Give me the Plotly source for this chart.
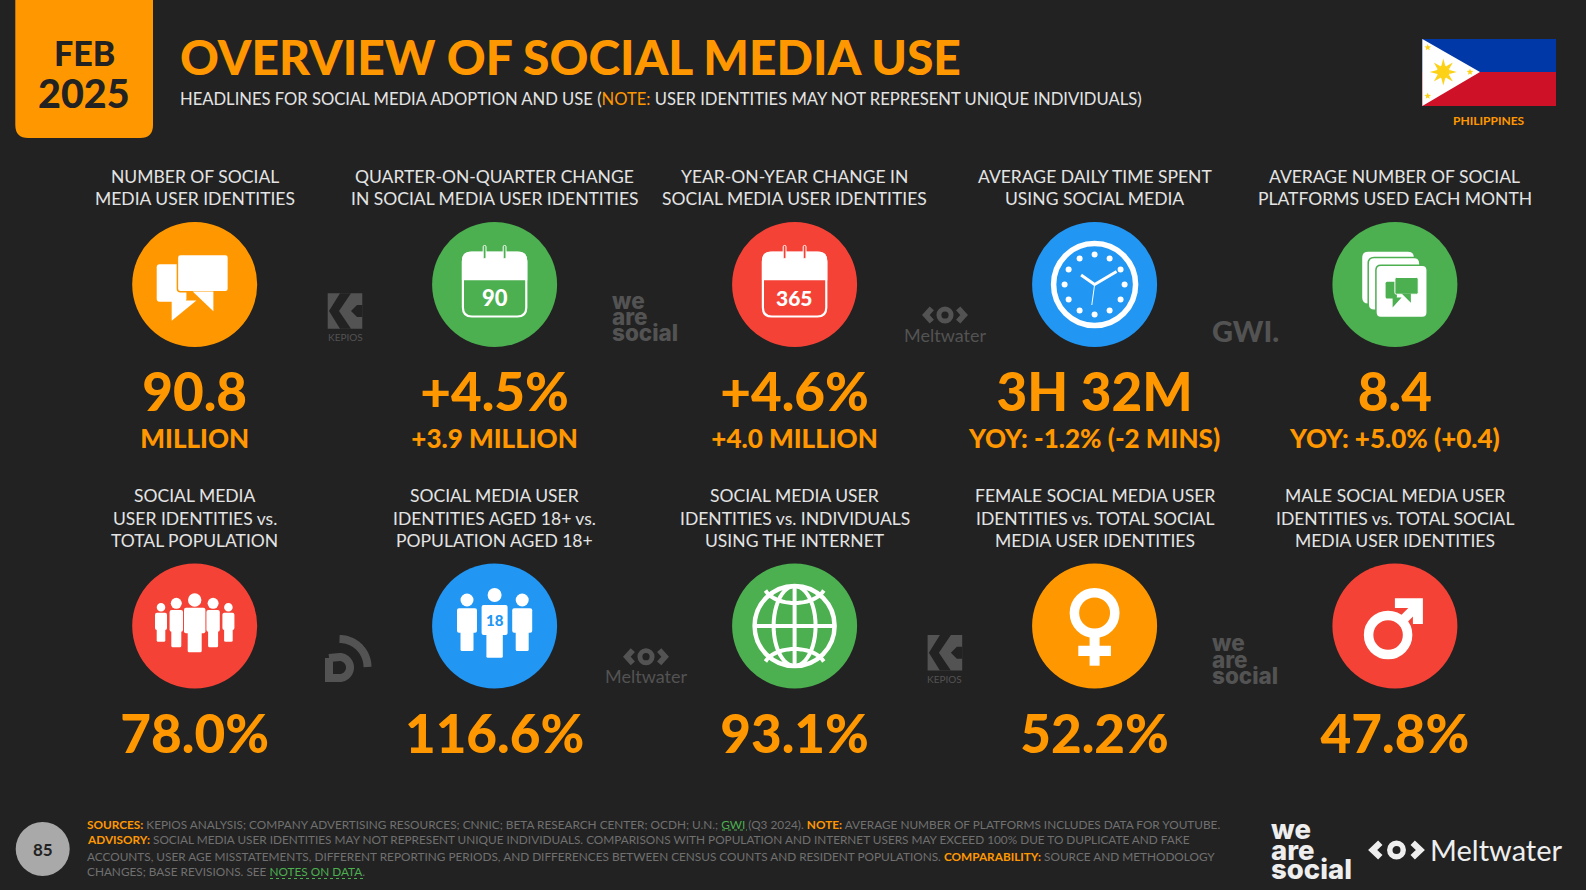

import math
import plotly.graph_objects as go

# colours
BG = "#222222"
ORANGE = "#FF9800"
GREEN = "#4CAF50"
RED = "#F44336"
BLUE = "#2196F3"
LABEL = "#E4E4E4"
FOOT = "#707070"
LOGO = "#535353"
FONT = "Lato"

# headline numbers, top row
top_labels = [
    ["NUMBER OF SOCIAL", "MEDIA USER IDENTITIES"],
    ["QUARTER-ON-QUARTER CHANGE", "IN SOCIAL MEDIA USER IDENTITIES"],
    ["YEAR-ON-YEAR CHANGE IN", "SOCIAL MEDIA USER IDENTITIES"],
    ["AVERAGE DAILY TIME SPENT", "USING SOCIAL MEDIA"],
    ["AVERAGE NUMBER OF SOCIAL", "PLATFORMS USED EACH MONTH"],
]
top_values = ["90.8", "+4.5%", "+4.6%", "3H 32M", "8.4"]
top_subs = ["MILLION", "+3.9 MILLION", "+4.0 MILLION", "YOY: -1.2% (-2 MINS)", "YOY: +5.0% (+0.4)"]
top_colors = [ORANGE, GREEN, RED, BLUE, GREEN]

# bottom row
bottom_labels = [
    ["SOCIAL MEDIA", "USER IDENTITIES vs.", "TOTAL POPULATION"],
    ["SOCIAL MEDIA USER", "IDENTITIES AGED 18+ vs.", "POPULATION AGED 18+"],
    ["SOCIAL MEDIA USER", "IDENTITIES vs. INDIVIDUALS", "USING THE INTERNET"],
    ["FEMALE SOCIAL MEDIA USER", "IDENTITIES vs. TOTAL SOCIAL", "MEDIA USER IDENTITIES"],
    ["MALE SOCIAL MEDIA USER", "IDENTITIES vs. TOTAL SOCIAL", "MEDIA USER IDENTITIES"],
]
bottom_values = ["78.0%", "116.6%", "93.1%", "52.2%", "47.8%"]
bottom_colors = [RED, BLUE, GREEN, ORANGE, RED]

COLS = [194.7, 494.6, 794.6, 1094.6, 1394.9]
ROW1 = 284.5
ROW2 = 626
R = 62.5

O = '<span style="color:%s"><b>%%s</b></span>' % ORANGE
G = '<span style="color:%s">%%s</span>' % GREEN
foot_lines = [
    O % "SOURCES:" + " KEPIOS ANALYSIS; COMPANY ADVERTISING RESOURCES; CNNIC; BETA RESEARCH CENTER; OCDH; U.N.; "
    + G % "GWI" + " (Q3 2024). " + O % "NOTE:" + " AVERAGE NUMBER OF PLATFORMS INCLUDES DATA FOR YOUTUBE.",
    O % "ADVISORY:" + " SOCIAL MEDIA USER IDENTITIES MAY NOT REPRESENT UNIQUE INDIVIDUALS. COMPARISONS WITH POPULATION AND INTERNET USERS MAY EXCEED 100% DUE TO DUPLICATE AND FAKE",
    "ACCOUNTS, USER AGE MISSTATEMENTS, DIFFERENT REPORTING PERIODS, AND DIFFERENCES BETWEEN CENSUS COUNTS AND RESIDENT POPULATIONS. "
    + O % "COMPARABILITY:" + " SOURCE AND METHODOLOGY",
    "CHANGES; BASE REVISIONS. SEE " + G % "NOTES ON DATA" + ".",
]

shapes = []
notes = []


def txt(x, y, s, size, color=LABEL, weight=400, anchor="center", family=FONT):
    notes.append(dict(x=x, y=y, xref="x", yref="y", text=s, showarrow=False, xanchor=anchor,
                      yanchor="middle", borderpad=0,
                      font=dict(size=size, color=color, weight=weight, family=family)))


def path(d, fill="white", line=None, lw=0):
    shapes.append(dict(type="path", path=d, xref="x", yref="y", fillcolor=fill,
                       line=dict(color=line or fill, width=lw)))


def stroke(pts, color="white", lw=3, dash="solid"):
    d = "M" + " L".join("%.2f,%.2f" % p for p in pts)
    shapes.append(dict(type="path", path=d, xref="x", yref="y",
                       line=dict(color=color, width=lw, dash=dash)))


def poly(pts, fill="white"):
    path("M" + " L".join("%.2f,%.2f" % p for p in pts) + " Z", fill)


def circle(cx, cy, r, fill="white", line=None, lw=0):
    shapes.append(dict(type="circle", xref="x", yref="y", x0=cx - r, x1=cx + r, y0=cy - r, y1=cy + r,
                       fillcolor=fill, line=dict(color=line or fill, width=lw)))


def ring(cx, cy, r, lw, color="white"):
    shapes.append(dict(type="circle", xref="x", yref="y", x0=cx - r, x1=cx + r, y0=cy - r, y1=cy + r,
                       line=dict(color=color, width=lw)))


def rrect(x0, y0, x1, y1, r, fill="white", line=None, lw=0):
    d = (f"M{x0 + r},{y0} L{x1 - r},{y0} Q{x1},{y0} {x1},{y0 + r} L{x1},{y1 - r} Q{x1},{y1} {x1 - r},{y1} "
         f"L{x0 + r},{y1} Q{x0},{y1} {x0},{y1 - r} L{x0},{y0 + r} Q{x0},{y0} {x0 + r},{y0} Z")
    path(d, fill, line, lw)


def arc(cx, cy, rx, ry, a0, a1, n=24):
    return [(cx + rx * math.cos(math.radians(a0 + (a1 - a0) * i / n)),
             cy + ry * math.sin(math.radians(a0 + (a1 - a0) * i / n))) for i in range(n + 1)]


def star(cx, cy, r):
    pts = []
    for i in range(10):
        rr = r if i % 2 == 0 else r * 0.42
        a = math.radians(-90 + i * 36)
        pts.append((cx + rr * math.cos(a), cy + rr * math.sin(a)))
    poly(pts, "#FCD116")


def person(cx, head_y, head_r, body_w, top, bottom, leg_w, foot):
    circle(cx, head_y, head_r)
    rrect(cx - body_w, top, cx + body_w, bottom, 2)
    rrect(cx - leg_w, bottom - 3, cx + leg_w, foot, 1.5)


def chat_icon(x, y, col):
    x = x + 3.7
    rrect(x - 41.7, y - 20.3, x - 12, y + 17.3, 3)
    poly([(x - 26.7, y + 16), (x - 2, y + 16), (x - 26.7, y + 36.3)])
    rrect(x - 21, y - 30, x + 30, y + 7.3, 3, "white", col, 1.5)
    poly([(x - 5.7, y + 7), (x + 15, y + 7), (x + 15, y + 26.7)])


def calendar_icon(x, y, col, label, size):
    rrect(x - 31.7, y - 32, x + 31.7, y + 32, 9, col, "white", 2.2)
    path(f"M{x - 32.7},{y - 4.3} L{x - 32.7},{y - 23.7} Q{x - 32.7},{y - 32.7} {x - 23.7},{y - 32.7} "
         f"L{x + 23.7},{y - 32.7} Q{x + 32.7},{y - 32.7} {x + 32.7},{y - 23.7} L{x + 32.7},{y - 4.3} Z")
    for dx in (-10, 10):
        rrect(dx + x - 1.4, y - 39, dx + x + 1.4, y - 26, 1.2, col, "white", 1)
    txt(x, y + 13, label, size, "white", 900)


def clock_icon(x, y):
    ring(x, y, 41, 5.5)
    for i in range(12):
        a = math.radians(i * 30)
        circle(x + 30 * math.cos(a), y + 30 * math.sin(a), 3)
    stroke([(x - 13.5, y - 9.5), (x, y), (x + 22, y - 13)], lw=3)
    stroke([(x, y), (x - 2.8, y + 20.5)], lw=1)


def pages_icon(x, y, col):
    rrect(x - 32.7, y - 32.7, x + 19, y + 19, 6)
    rrect(x - 26.7, y - 27, x + 25, y + 25.7, 6, "white", col, 1.5)
    rrect(x - 19, y - 19.3, x + 32.3, y + 33, 5, "white", col, 1.5)
    rrect(x - 9.3, y - 2.7, x + 2, y + 14, 1.5, col)
    poly([(x - 2.3, y + 13), (x + 6.7, y + 13), (x - 2.3, y + 23)], col)
    rrect(x, y - 7, x + 23.3, y + 9.7, 1.5, col, "white", 1)
    poly([(x + 6.7, y + 9), (x + 16, y + 9), (x + 16, y + 18.3)], col)


def people_icon(x, y, col):
    for s in (-1, 1):
        person(x + s * 33.7, y - 18.7, 4.3, 6, y - 13.3, y + 4, 4.3, y + 15.7)
    for s in (-1, 1):
        person(x + s * 18.4, y - 22.7, 5.5, 6.7, y - 16, y + 5.7, 5, y + 21.3)
    person(x, y - 26, 6.7, 10.7, y - 18.3, y + 7.3, 7, y + 26.3)


def people18_icon(x, y, col):
    for s in (-1, 1):
        person(x + s * 27.6, y - 26, 6.5, 10, y - 17.7, y + 6.7, 6.5, y + 25)
    person(x, y - 31, 7, 13, y - 21, y + 9, 8.2, y + 31.7)
    txt(x, y - 6, "18", 15, col, 900)


def globe_icon(x, y):
    ring(x, y, 40, 4.5)
    stroke([(x - 40, y), (x + 40, y)], lw=4)
    stroke([(x, y - 40), (x, y + 40)], lw=4)
    stroke(arc(x, y, 21, 40, -90, 90), lw=4)
    stroke(arc(x, y, 21, 40, 90, 270), lw=4)
    stroke(arc(x, y - 42, 31, 19, 20, 160), lw=4)
    stroke(arc(x, y + 42, 31, 19, 200, 340), lw=4)


def female_icon(x, y):
    ring(x, y - 13, 20.2, 9.5)
    poly([(x - 5, y + 10), (x + 5, y + 10), (x + 5, y + 39.7), (x - 5, y + 39.7)])
    poly([(x - 16.3, y + 19.7), (x + 16.3, y + 19.7), (x + 16.3, y + 30), (x - 16.3, y + 30)])


def male_icon(x, y):
    ring(x - 6.8, y + 9, 19.5, 9.5)
    stroke([(x + 5, y - 3), (x + 23, y - 21)], lw=9.5)
    poly([(x, y - 27.7), (x + 28, y - 27.7), (x + 28, y - 2), (x + 18, y - 2), (x + 18, y - 18), (x, y - 18)])


def kepios(x0, y0):
    x, y = x0 + 17.3, y0 + 17.7
    poly([(x0, y0), (x0 + 34.6, y0), (x0 + 34.6, y0 + 35.4), (x0, y0 + 35.4)], LOGO)
    poly([(x - 5, y - 17.7), (x + 6, y - 17.7), (x - 6, y), (x + 6, y + 17.7), (x - 5, y + 17.7), (x - 16, y)], BG)
    poly([(x + 6, y), (x + 12, y - 6), (x + 17.3, y - 6), (x + 17.3, y + 6), (x + 12, y + 6)], BG)
    txt(x, y0 + 44, "KEPIOS", 10, LOGO)


def we_are_social(x, ys, size, color):
    for word, yy in zip(["we", "are", "social"], ys):
        txt(x, yy, word, size, color, 800, "left", "Inter")


def meltwater_eye(x, y, w, h, color):
    lw = h * 0.3
    stroke([(x - w * 0.3, y - h / 2 + lw / 2), (x - w / 2 + lw / 2, y), (x - w * 0.3, y + h / 2 - lw / 2)], color, lw)
    stroke([(x + w * 0.3, y - h / 2 + lw / 2), (x + w / 2 - lw / 2, y), (x + w * 0.3, y + h / 2 - lw / 2)], color, lw)
    ring(x, y, h * 0.32, h * 0.26, color)


def data_reportal(x, y):
    stroke(arc(x + 14.5, y + 33, 28, 28, -90, 0), LOGO, 8)
    d = [(x + 4, y + 24)] + arc(x + 14.5, y + 33.5, 10.5, 10.5, -90, 90) + [(x + 4, y + 44), (x + 4, y + 24)]
    stroke(d, LOGO, 8)


# date tab and title
rrect(15.3, -30, 153, 138, 13, ORANGE)
txt(84, 52, "FEB", 34, BG, 900)
txt(84, 92, "2025", 39.5, BG, 900)
txt(179, 56.5, "OVERVIEW OF SOCIAL MEDIA USE", 48, ORANGE, 900, "left")
txt(179, 99, "HEADLINES FOR SOCIAL MEDIA ADOPTION AND USE (" + '<span style="color:%s">NOTE:</span>' % ORANGE
    + " USER IDENTITIES MAY NOT REPRESENT UNIQUE INDIVIDUALS)", 16.6, LABEL, 400, "left")

# flag
poly([(1422.3, 39), (1556, 39), (1556, 72), (1422.3, 72)], "#0038A8")
poly([(1422.3, 72), (1556, 72), (1556, 106), (1422.3, 106)], "#CE1126")
poly([(1422.3, 39), (1480, 72), (1422.3, 106)], "white")
for i in range(8):
    a = math.radians(i * 45)
    ca, sa = math.cos(a), math.sin(a)
    poly([(1443.3 + 6 * ca - 2 * sa, 72 + 6 * sa + 2 * ca), (1443.3 + 13.5 * ca, 72 + 13.5 * sa),
          (1443.3 + 6 * ca + 2 * sa, 72 + 6 * sa - 2 * ca)], "#FCD116")
circle(1443.3, 72, 6.5, "#FCD116")
star(1427.7, 47.5, 3.5)
star(1427.7, 96, 3.5)
star(1470, 72, 3.5)
txt(1489, 120, "PHILIPPINES", 12, ORANGE, 700)

# circles and icons
for x, c in zip(COLS, top_colors):
    circle(x, ROW1, R, c)
for x, c in zip(COLS, bottom_colors):
    circle(x, ROW2, R, c)

chat_icon(COLS[0], ROW1, ORANGE)
calendar_icon(COLS[1], ROW1, GREEN, "90", 22)
calendar_icon(COLS[2], ROW1, RED, "365", 21)
clock_icon(COLS[3], ROW1)
pages_icon(COLS[4], ROW1, GREEN)
people_icon(COLS[0], ROW2, RED)
people18_icon(COLS[1], ROW2, BLUE)
globe_icon(COLS[2], ROW2)
female_icon(COLS[3], ROW2)
male_icon(COLS[4], ROW2)

# labels
for x, lines in zip(COLS, top_labels):
    for y, s in zip([176, 198], lines):
        txt(x, y, s, 17.5)
for x, lines in zip(COLS, bottom_labels):
    for y, s in zip([495.3, 518, 540.2], lines):
        txt(x, y, s, 17.5)

# grey source logos between the circles
kepios(327.7, 293.3)
kepios(927.6, 635)
we_are_social(611, [300, 316.7, 332.7], 22.5, LOGO)
we_are_social(1211, [642, 659, 675.7], 22.5, LOGO)
meltwater_eye(945, 315, 44, 19, LOGO)
txt(945, 334.5, "Meltwater", 18, LOGO)
meltwater_eye(646, 656.7, 44, 19, LOGO)
txt(646, 675.5, "Meltwater", 18, LOGO)
txt(1245, 330, "GWI.", 29, LOGO, 900)
data_reportal(325, 634)

# footer
circle(42.7, 849, 27, "#A9A9A9")
txt(42.7, 849, "85", 17, BG, 700)
for y, s in zip([824, 839.5, 856, 871.7], foot_lines):
    txt(86, y, s, 11.8, FOOT, 400, "left")
stroke([(722, 830), (747, 830)], GREEN, 1, "dot")
stroke([(270, 878.5), (365, 878.5)], GREEN, 1, "dot")

we_are_social(1270, [829, 850, 869], 27.5, "#EEEEEE")
meltwater_eye(1396.5, 850, 54, 21, "#EEEEEE")
txt(1429, 849.5, "Meltwater", 29, "#EEEEEE", 400, "left")

fig = go.Figure()
fig.add_trace(go.Scatter(x=COLS, y=[397.5] * 5, text=top_values, mode="text", hoverinfo="skip",
                         textfont=dict(size=53, color=ORANGE, family=FONT, weight=900)))
fig.add_trace(go.Scatter(x=COLS, y=[441] * 5, text=top_subs, mode="text", hoverinfo="skip",
                         textfont=dict(size=26, color=ORANGE, family=FONT, weight=900)))
fig.add_trace(go.Scatter(x=COLS, y=[740] * 5, text=bottom_values, mode="text", hoverinfo="skip",
                         textfont=dict(size=53, color=ORANGE, family=FONT, weight=900)))

fig.update_layout(
    width=1586, height=890, margin=dict(l=0, r=0, t=0, b=0),
    paper_bgcolor=BG, plot_bgcolor=BG, showlegend=False,
    xaxis=dict(range=[0, 1586], visible=False, fixedrange=True),
    yaxis=dict(range=[890, 0], visible=False, fixedrange=True),
    shapes=shapes, annotations=notes,
)

fig.write_html("out.html", config={"displayModeBar": False},
               post_script="document.body.style.margin='0';document.body.style.background='%s';" % BG)
